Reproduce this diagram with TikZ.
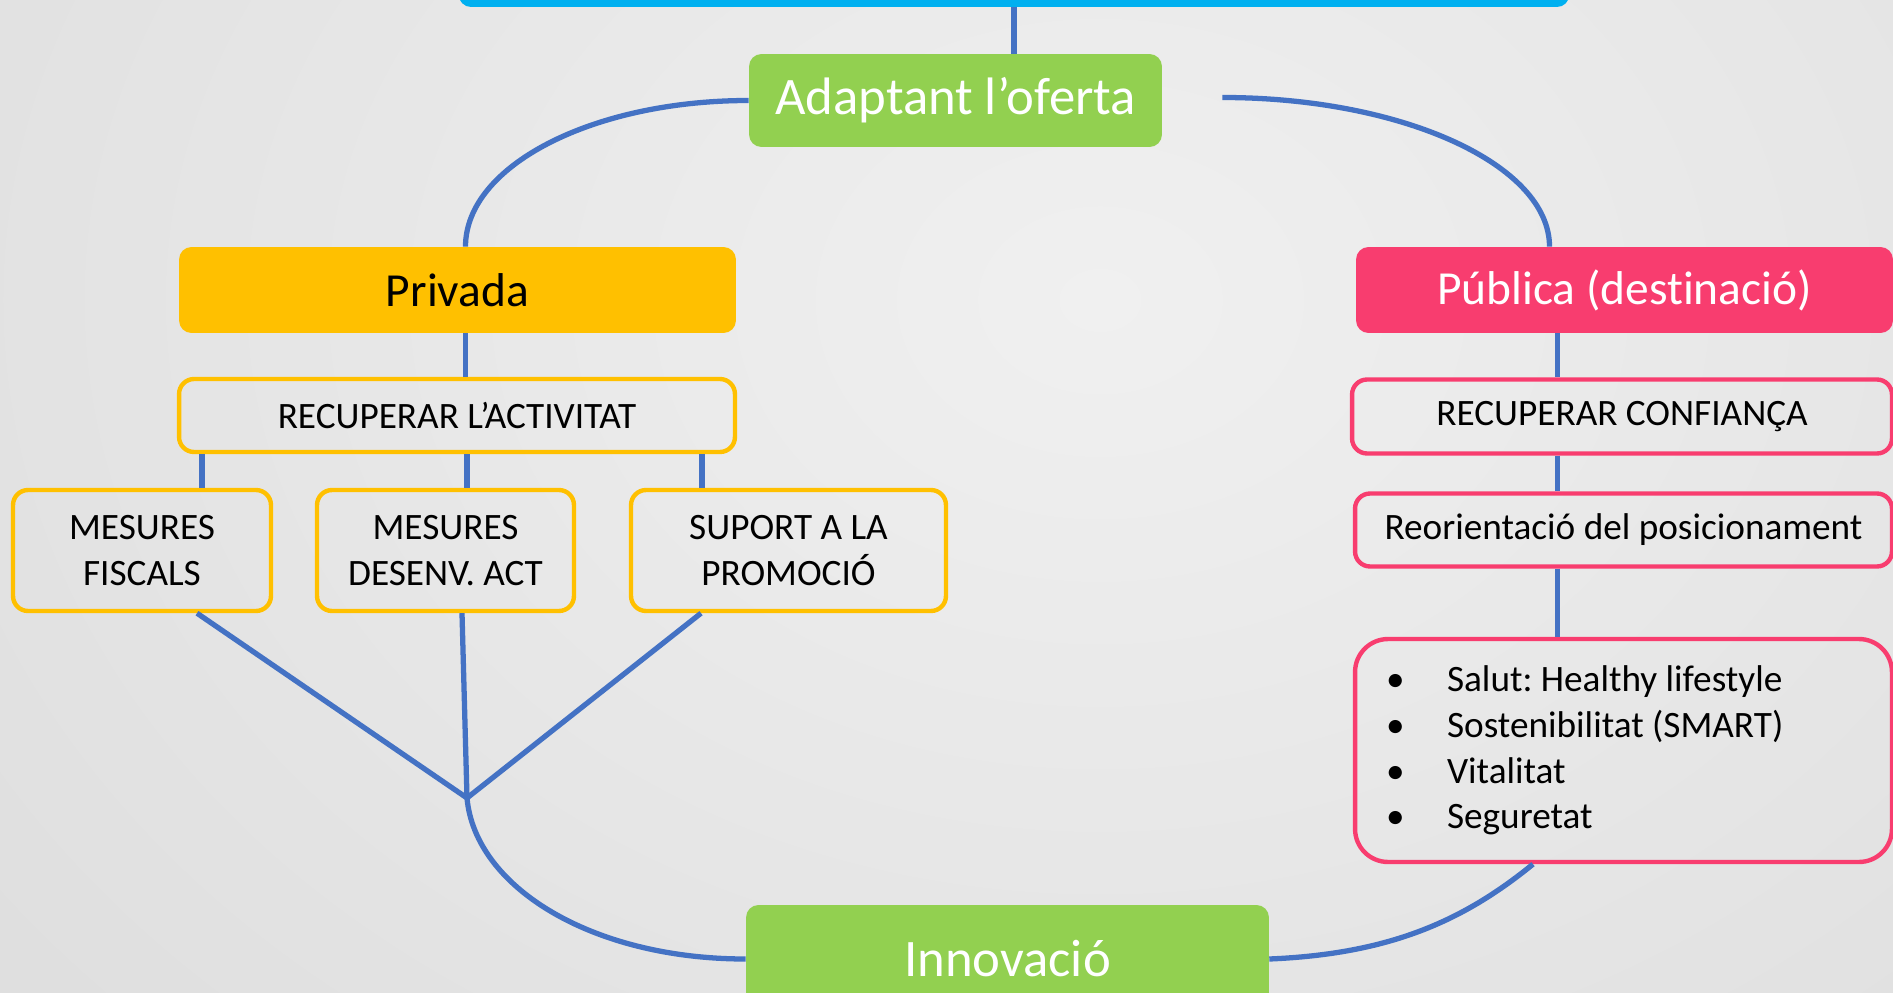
\documentclass[tikz,border=0pt]{standalone}
\usepackage{fontspec}
\setmainfont{Carlito}[Ligatures=NoCommon]
\usetikzlibrary{positioning,calc}

\definecolor{bleubarre}{HTML}{00B0F0}
\definecolor{vert}{HTML}{92D050}
\definecolor{or}{HTML}{FFC000}
\definecolor{rose}{HTML}{F83D6F}
\definecolor{bleulien}{HTML}{4472C4}
\definecolor{fondclair}{HTML}{F0F0F0}
\definecolor{fondsombre}{HTML}{D8D8D8}

\tikzset{
  lien/.style={draw=bleulien, line width=3pt},
  plein/.style={rounded corners=0.25cm, inner sep=0pt, font=\fontsize{30}{35}\selectfont},
  boiteverte/.style={plein, fill=vert, text=white},
  boiteor/.style={plein, fill=or, text=black, font=\fontsize{27}{32}\selectfont},
  boiterose/.style={plein, fill=rose, text=white, font=\fontsize{27}{32}\selectfont},
  cadre/.style={rounded corners=0.3cm, line width=2.5pt, inner sep=0pt, align=center,
    font=\fontsize{21.2}{26}\selectfont\frenchspacing},
  cadreor/.style={cadre, draw=or},
  cadrerose/.style={cadre, draw=rose},
}

\begin{document}
\begin{tikzpicture}[x=0.02cm,y=-0.02cm]
    % Fond
    \path[use as bounding box] (0,0) rectangle (1893,993);
    \clip (0,0) rectangle (1893,993);
    \shade[inner color=fondclair, outer color=fondsombre] (-850,-1200) rectangle (3050,1800);

    % Boites du haut
    \node[plein, fill=bleubarre, minimum width=22.22cm, minimum height=1.88cm] (barre) at (1014,-40) {};
    \node[boiteverte, minimum width=8.26cm, minimum height=1.86cm] (adapt) at (955.5,100.5) {Adaptant l’oferta};

    % Branche privada
    \node[boiteor, minimum width=11.14cm, minimum height=1.72cm] (priv) at (457.5,290) {Privada};
    \node[cadreor, minimum width=11.12cm, minimum height=1.46cm] (recup) at (457,415.5) {RECUPERAR L’ACTIVITAT};
    \node[cadreor, minimum width=5.16cm, minimum height=2.42cm] (fisc) at (142,550.5) {MESURES\\FISCALS};
    \node[cadreor, minimum width=5.14cm, minimum height=2.42cm] (desenv) at (445.5,550.5) {MESURES\\DESENV. ACT};
    \node[cadreor, minimum width=6.3cm, minimum height=2.42cm] (suport) at (788.5,550.5) {SUPORT A LA\\PROMOCIÓ};

    % Branche publica
    \node[boiterose, minimum width=10.74cm, minimum height=1.72cm] (pub) at (1624.5,290) {Pública (destinació)};
    \node[cadrerose, minimum width=10.8cm, minimum height=1.48cm] (conf) at (1622,416.5) {RECUPERAR CONFIANÇA};
    \node[cadrerose, minimum width=10.74cm, minimum height=1.46cm] (reor) at (1623.5,530) {Reorientació del posicionament};
    \node[cadrerose, rounded corners=0.66cm, minimum height=4.46cm, inner xsep=0.62cm,
          text width=9.5cm, align=flush left] (salut) at (1623.5,750.5)
        {\makebox[1.22cm][l]{•}Salut: Healthy lifestyle\\
         \makebox[1.22cm][l]{•}Sostenibilitat (SMART)\\
         \makebox[1.22cm][l]{•}Vitalitat\\
         \makebox[1.22cm][l]{•}Seguretat};

    % Boite du bas
    \node[boiteverte, minimum width=10.46cm, minimum height=2.16cm] (innov) at (1007.5,959) {Innovació};

    % Liens du haut
    \draw[lien] (barre.south) -- (barre.south |- adapt.north);
    \coordinate (privhaut) at ($(priv.north)+(8,0)$);
    \draw[lien] (adapt.west) .. controls +(-156,0) and +(0,-81) .. (privhaut);
    \coordinate (adaptdroit) at ($(adapt.east)+(60,-3)$);
    \coordinate (pubhaut) at ($(pub.north)+(-75,0)$);
    \draw[lien] (adaptdroit) .. controls +(180,0) and +(0,-82) .. (pubhaut);

    % Liens cote prive
    \draw[lien] (privhaut |- priv.south) -- (privhaut |- recup.north);
    \coordinate (f1) at ($(fisc.north)+(60,0)$);
    \coordinate (d1) at ($(desenv.north)+(21.5,0)$);
    \coordinate (s1) at ($(suport.north)+(-86.5,0)$);
    \foreach \c in {f1,d1,s1}
        \draw[lien] (\c |- recup.south) -- (\c);

    % Convergence vers innovacio
    \coordinate (noeud) at (467,798);
    \draw[lien] ($(fisc.south)+(55,0)$) -- (noeud);
    \draw[lien] ($(desenv.south)+(16.5,0)$) -- (noeud);
    \draw[lien] ($(suport.south)+(-87.5,0)$) -- (noeud);
    \draw[lien] (noeud) .. controls +(8,89) and +(-154,0) .. (innov.west);

    % Liens cote public
    \coordinate (colpub) at ($(pub.south)+(-67,0)$);
    \draw[lien] (colpub) -- (colpub |- conf.north);
    \draw[lien] (colpub |- conf.south) -- (colpub |- reor.north);
    \draw[lien] (colpub |- reor.south) -- (colpub |- salut.north);
    \draw[lien] (innov.east) .. controls +(120,-5) and +(-70,57) .. ($(salut.south)+(-90.5,0)$);
\end{tikzpicture}
\end{document}
